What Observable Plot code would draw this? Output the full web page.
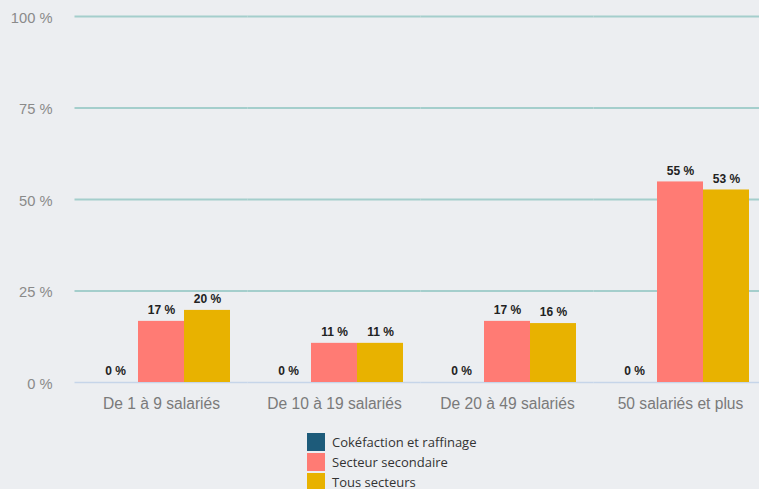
<!DOCTYPE html>
<html>
<head>
<meta charset="utf-8">
<script src="https://cdn.jsdelivr.net/npm/d3@7"></script>
<script src="https://cdn.jsdelivr.net/npm/@observablehq/plot@0.6"></script>
<style>
  html, body { margin: 0; padding: 0; background: #ECEEF1; overflow: hidden; }
  #chart svg { display: block; }
  .legend { margin: 7px 0 0 307px; font-family: "Open Sans", sans-serif; font-size: 13px; color: #333; }
  .legend .row { display: flex; align-items: center; height: 20px; }
  .legend .sw { width: 18px; height: 18px; margin-right: 7px; }
</style>
</head>
<body>
<div id="chart"></div>
<script>
const groups = ["De 1 à 9 salariés", "De 10 à 19 salariés", "De 20 à 49 salariés", "50 salariés et plus"];
const series = ["Cokéfaction et raffinage", "Secteur secondaire", "Tous secteurs"];
const cokefaction = [0, 0, 0, 0];
const secondaire = [16.7, 10.7, 16.7, 54.8];
const tousSecteurs = [19.7, 10.7, 16.1, 52.6];
const colors = ["#1D5B7A", "#FF7B74", "#E8B200"];
const yTicks = [0, 25, 50, 75, 100];

const valuesBySeries = [cokefaction, secondaire, tousSecteurs];
const data = [];
groups.forEach((g, i) => {
  series.forEach((s, j) => data.push({group: g, series: s, value: valuesBySeries[j][i]}));
});

const chart = Plot.plot({
  width: 759,
  height: 425,
  marginLeft: 75,
  marginRight: -8,
  marginTop: 16,
  marginBottom: 43,
  style: {background: "transparent", fontFamily: "'Liberation Sans', Arial, sans-serif", overflow: "visible"},
  fx: {domain: groups, paddingInner: 0.19, paddingOuter: 0.095, label: null},
  x: {domain: series, padding: 0, axis: null},
  y: {domain: [0, 100], axis: null},
  color: {domain: series, range: colors},
  marks: [
    Plot.ruleY(yTicks.filter(d => d > 0), {stroke: "#A4CECC", strokeWidth: 2, insetLeft: -16.5, insetRight: -16.5}),
    Plot.ruleY([0], {stroke: "#C6D5E9", strokeWidth: 1.5, insetLeft: -16.5, insetRight: -16.5}),
    Plot.axisY({ticks: yTicks, tickSize: 0, tickPadding: 39, tickFormat: d => d + " %", fontSize: 14.7, fill: "#8a8a8a", label: null, dy: 1.5}),
    Plot.axisFx({anchor: "bottom", tickSize: 0, tickPadding: 15, fontSize: 15.6, fill: "#7a7a7a", label: null}),
    Plot.barY(data, {fx: "group", x: "series", y: "value", fill: "series"}),
    Plot.text(data, {fx: "group", x: "series", y: "value", text: d => Math.round(d.value) + " %", dy: -11, fontWeight: "bold", fontSize: 12, fill: "#222"})
  ]
});
document.getElementById("chart").appendChild(chart);

const legend = document.createElement("div");
legend.className = "legend";
series.forEach((s, i) => {
  const row = document.createElement("div");
  row.className = "row";
  const sw = document.createElement("div");
  sw.className = "sw";
  sw.style.background = colors[i];
  const label = document.createElement("span");
  label.textContent = s;
  row.appendChild(sw);
  row.appendChild(label);
  legend.appendChild(row);
});
document.body.appendChild(legend);
</script>
</body>
</html>
